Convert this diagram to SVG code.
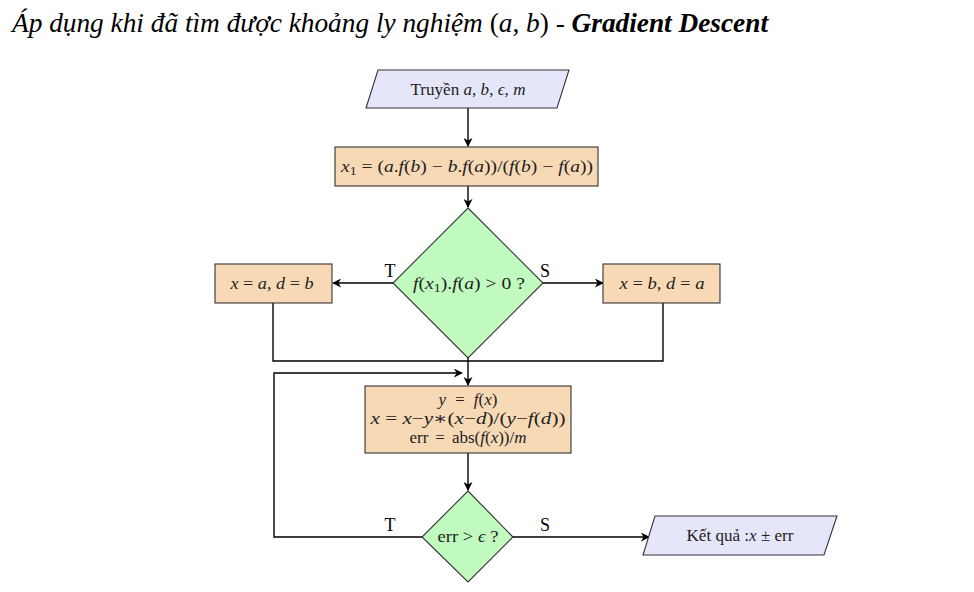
<svg xmlns="http://www.w3.org/2000/svg" width="974" height="592" viewBox="0 0 974 592">
<defs>
<style>
.io{fill:#e6e6fa;stroke:#333;stroke-width:1.1}
.pr{fill:#f8d9b6;stroke:#333;stroke-width:1.1}
.dc{fill:#c1fabe;stroke:#333;stroke-width:1.1}
.t{font-family:"Liberation Serif","DejaVu Serif",serif;font-size:17px;fill:#222;text-anchor:middle}
.i{font-style:italic}
.ttl{font-family:"Liberation Serif","DejaVu Serif",serif;font-size:27px;font-style:italic;fill:#000}
.lb{font-family:"Liberation Serif","DejaVu Serif",serif;font-size:18px;fill:#000;text-anchor:middle}
.c{fill:none;stroke:#000;stroke-width:1.4}
</style>
<marker id="ah" viewBox="0 0 10 10" refX="9" refY="5" markerWidth="9" markerHeight="9" markerUnits="userSpaceOnUse" orient="auto">
<path d="M0,0 L10,5 L0,10 L3,5 Z" fill="#000"/>
</marker>
</defs>
<text class="ttl" x="12" y="32" textLength="756" lengthAdjust="spacingAndGlyphs">Áp dụng khi đã tìm được khoảng ly nghiệm <tspan font-style="normal">(</tspan>a<tspan font-style="normal">, </tspan>b<tspan font-style="normal">)</tspan> - <tspan font-weight="bold">Gradient Descent</tspan></text>

<g id="connectors">
<path class="c" d="M468,108 V146" marker-end="url(#ah)"/>
<path class="c" d="M468,186 V207" marker-end="url(#ah)"/>
<path class="c" d="M393,283 H333" marker-end="url(#ah)"/>
<path class="c" d="M543,283 H603" marker-end="url(#ah)"/>
<path class="c" d="M273,303 V361 H663 V303"/>
<path class="c" d="M468,358 V385" marker-end="url(#ah)"/>
<path class="c" d="M422,537 H274 V373 H462" marker-end="url(#ah)"/>
<path class="c" d="M468,453 V490" marker-end="url(#ah)"/>
<path class="c" d="M513,537 H649" marker-end="url(#ah)"/>
<text class="lb" x="390" y="277">T</text>
<text class="lb" x="545" y="277">S</text>
<text class="lb" x="390" y="531">T</text>
<text class="lb" x="545" y="531">S</text>
</g>

<g id="input">
<polygon class="io" points="378,70 569,70 557,108 366,108"/>
<text class="t" x="468" y="95" textLength="115" lengthAdjust="spacingAndGlyphs">Truyền <tspan class="i">a</tspan>, <tspan class="i">b</tspan>, <tspan class="i">ϵ</tspan>, <tspan class="i">m</tspan></text>
</g>

<g id="x1">
<rect class="pr" x="335" y="147" width="263" height="39"/>
<text class="t" x="467" y="172" textLength="252" lengthAdjust="spacingAndGlyphs"><tspan class="i">x</tspan><tspan font-size="12" dy="3">1</tspan><tspan dy="-3"> = (</tspan><tspan class="i">a</tspan>.<tspan class="i">f</tspan>(<tspan class="i">b</tspan>) − <tspan class="i">b</tspan>.<tspan class="i">f</tspan>(<tspan class="i">a</tspan>))/(<tspan class="i">f</tspan>(<tspan class="i">b</tspan>) − <tspan class="i">f</tspan>(<tspan class="i">a</tspan>))</text>
</g>

<g id="cond1">
<polygon class="dc" points="468,208 543,283 468,358 393,283"/>
<text class="t" x="469" y="289" textLength="112" lengthAdjust="spacingAndGlyphs"><tspan class="i">f</tspan>(<tspan class="i">x</tspan><tspan font-size="12" dy="3">1</tspan><tspan dy="-3">).</tspan><tspan class="i">f</tspan>(<tspan class="i">a</tspan>) &gt; 0 ?</text>
</g>

<g id="left">
<rect class="pr" x="215" y="264" width="117" height="39"/>
<text class="t" x="272" y="289" textLength="83" lengthAdjust="spacingAndGlyphs"><tspan class="i">x</tspan> = <tspan class="i">a</tspan>, <tspan class="i">d</tspan> = <tspan class="i">b</tspan></text>
</g>

<g id="right">
<rect class="pr" x="603" y="264" width="117" height="39"/>
<text class="t" x="662" y="289" textLength="85" lengthAdjust="spacingAndGlyphs"><tspan class="i">x</tspan> = <tspan class="i">b</tspan>, <tspan class="i">d</tspan> = <tspan class="i">a</tspan></text>
</g>

<g id="iter">
<rect class="pr" x="365" y="386" width="206" height="67"/>
<text class="t" x="468" y="405"><tspan class="i">y</tspan><tspan dx="9">=</tspan><tspan class="i" dx="9">f</tspan>(<tspan class="i">x</tspan>)</text>
<text class="t" x="468" y="424" textLength="195" lengthAdjust="spacingAndGlyphs"><tspan class="i">x</tspan> = <tspan class="i">x</tspan>−<tspan class="i">y</tspan>∗(<tspan class="i">x</tspan>−<tspan class="i">d</tspan>)/(<tspan class="i">y</tspan>−<tspan class="i">f</tspan>(<tspan class="i">d</tspan>))</text>
<text class="t" x="468" y="443">err<tspan dx="7">=</tspan><tspan dx="7">abs(</tspan><tspan class="i">f</tspan>(<tspan class="i">x</tspan>))/<tspan class="i">m</tspan></text>
</g>

<g id="cond2">
<polygon class="dc" points="468,491 513,537 468,582 422,537"/>
<text class="t" x="468" y="542" font-size="15" textLength="61" lengthAdjust="spacingAndGlyphs">err &gt; <tspan class="i">ϵ</tspan> ?</text>
</g>

<g id="output">
<polygon class="io" points="655,516 837,516 824,555 643,555"/>
<text class="t" x="740" y="541" textLength="107" lengthAdjust="spacingAndGlyphs">Kết quả :<tspan class="i">x</tspan> ± err</text>
</g>
</svg>
